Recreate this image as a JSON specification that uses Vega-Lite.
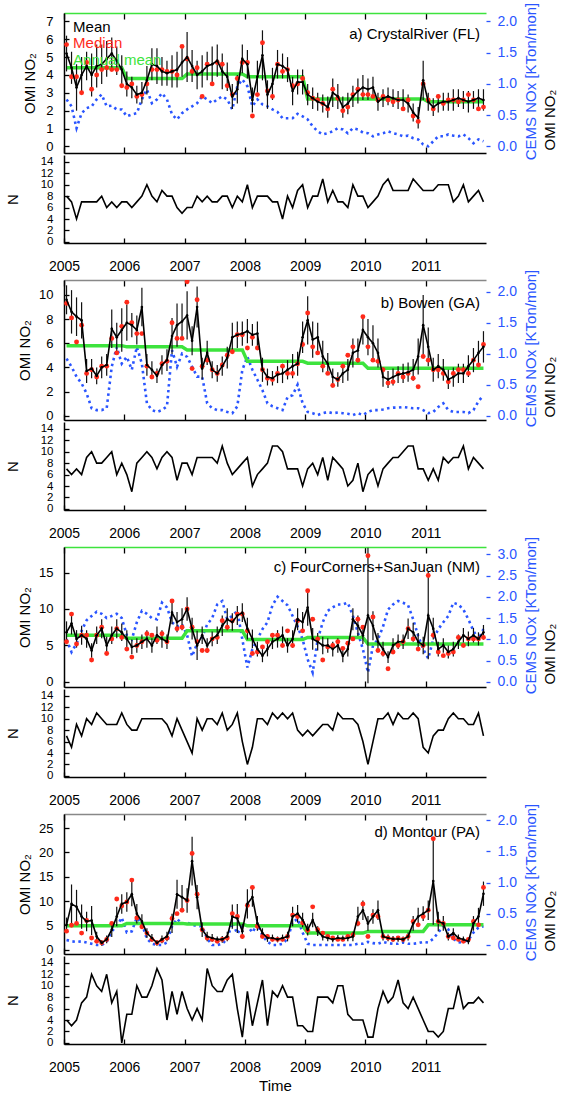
{
"$schema":"https://vega.github.io/schema/vega-lite/v6.json",
"background":"white",
"padding":{"left":5,"top":2,"right":2,"bottom":0},
"config":{"font":"Liberation Sans","view":{"stroke":null},
"axis":{"grid":false,"labelFont":"Liberation Sans","titleFont":"Liberation Sans","labelFontSize":13,"titleFontSize":15,"titleFontWeight":"normal","labelColor":"black","titleColor":"black","domainColor":"black","domainWidth":1.5,"tickColor":"black","tickWidth":1.3,"labelOverlap":false,"labelFlush":false}},
"datasets":{
"A":[
{"t":2005.042,"m":5.2,"e":1.0,"d":5.7,"a":4.4,"c":0.75,"n":8},{"t":2005.125,"m":4.4,"e":0.9,"d":3.9,"a":4.4,"c":0.64,"n":7},{"t":2005.208,"m":3.3,"e":1.3,"d":3.9,"a":4.4,"c":0.29,"n":4},{"t":2005.292,"m":4.0,"e":1.0,"d":3.0,"a":4.4,"c":0.53,"n":7},{"t":2005.375,"m":4.5,"e":0.8,"d":4.7,"a":4.4,"c":0.61,"n":7},{"t":2005.458,"m":4.0,"e":1.2,"d":3.2,"a":4.4,"c":0.64,"n":7},{"t":2005.542,"m":4.5,"e":1.2,"d":4.0,"a":4.4,"c":0.75,"n":7},{"t":2005.625,"m":4.6,"e":1.1,"d":4.3,"a":4.4,"c":0.83,"n":8},{"t":2005.708,"m":4.9,"e":1.0,"d":4.4,"a":4.4,"c":0.64,"n":6},{"t":2005.792,"m":5.2,"e":0.9,"d":4.3,"a":4.4,"c":0.65,"n":7},{"t":2005.875,"m":4.8,"e":0.8,"d":4.3,"a":4.4,"c":0.59,"n":6},{"t":2005.958,"m":4.3,"e":0.8,"d":3.4,"a":4.4,"c":0.59,"n":7},
{"t":2006.042,"m":3.5,"e":0.7,"d":3.3,"a":3.8,"c":0.48,"n":7},{"t":2006.125,"m":3.3,"e":0.6,"d":3.5,"a":3.8,"c":0.51,"n":6},{"t":2006.208,"m":2.9,"e":0.5,"d":2.8,"a":3.8,"c":0.53,"n":7},{"t":2006.292,"m":3.0,"e":0.6,"d":2.9,"a":3.8,"c":0.75,"n":8},{"t":2006.375,"m":3.7,"e":0.8,"d":3.5,"a":3.8,"c":0.91,"n":10},{"t":2006.458,"m":4.6,"e":0.9,"d":4.3,"a":3.8,"c":0.69,"n":8},{"t":2006.542,"m":4.5,"e":1.0,"d":4.3,"a":3.8,"c":0.75,"n":7},{"t":2006.625,"m":4.2,"e":0.8,"d":4.3,"a":3.8,"c":0.85,"n":9},{"t":2006.708,"m":4.1,"e":0.7,"d":4.2,"a":3.8,"c":0.75,"n":8},{"t":2006.792,"m":4.2,"e":0.9,"d":4.2,"a":3.8,"c":0.51,"n":8},{"t":2006.875,"m":4.3,"e":1.0,"d":4.0,"a":3.8,"c":0.43,"n":6},{"t":2006.958,"m":4.7,"e":0.8,"d":5.6,"a":3.8,"c":0.53,"n":5},
{"t":2007.042,"m":5.0,"e":1.4,"d":4.9,"a":4.05,"c":0.59,"n":6},{"t":2007.125,"m":4.5,"e":0.9,"d":4.2,"a":4.05,"c":0.64,"n":6},{"t":2007.208,"m":4.0,"e":0.8,"d":4.4,"a":4.05,"c":0.69,"n":8},{"t":2007.292,"m":4.2,"e":0.9,"d":2.8,"a":4.05,"c":0.80,"n":7},{"t":2007.375,"m":4.5,"e":0.8,"d":4.6,"a":4.05,"c":0.75,"n":8},{"t":2007.458,"m":4.6,"e":1.0,"d":3.5,"a":4.05,"c":0.69,"n":7},{"t":2007.542,"m":4.8,"e":0.9,"d":4.7,"a":4.05,"c":0.75,"n":7},{"t":2007.625,"m":4.2,"e":1.0,"d":4.6,"a":4.05,"c":0.80,"n":8},{"t":2007.708,"m":3.9,"e":0.8,"d":3.4,"a":4.05,"c":0.75,"n":8},{"t":2007.792,"m":2.8,"e":0.7,"d":2.9,"a":4.05,"c":0.59,"n":6},{"t":2007.875,"m":3.2,"e":0.8,"d":3.8,"a":4.05,"c":0.96,"n":8},{"t":2007.958,"m":4.9,"e":0.8,"d":4.7,"a":4.05,"c":1.07,"n":7},
{"t":2008.042,"m":4.6,"e":0.8,"d":4.7,"a":3.9,"c":0.96,"n":10},{"t":2008.125,"m":2.6,"e":0.7,"d":1.7,"a":3.9,"c":0.64,"n":6},{"t":2008.208,"m":3.9,"e":0.9,"d":2.9,"a":3.9,"c":0.75,"n":8},{"t":2008.292,"m":5.1,"e":1.4,"d":5.8,"a":3.9,"c":0.67,"n":8},{"t":2008.375,"m":2.9,"e":0.8,"d":3.1,"a":3.9,"c":0.64,"n":8},{"t":2008.458,"m":3.5,"e":0.9,"d":2.8,"a":3.9,"c":0.59,"n":7},{"t":2008.542,"m":4.6,"e":0.8,"d":4.6,"a":3.9,"c":0.55,"n":7},{"t":2008.625,"m":4.5,"e":0.7,"d":4.2,"a":3.9,"c":0.45,"n":4},{"t":2008.708,"m":4.3,"e":0.7,"d":4.3,"a":3.9,"c":0.45,"n":8},{"t":2008.792,"m":3.1,"e":0.8,"d":3.4,"a":3.9,"c":0.45,"n":6},{"t":2008.875,"m":3.6,"e":0.7,"d":3.5,"a":3.9,"c":0.52,"n":9},{"t":2008.958,"m":3.6,"e":0.7,"d":3.8,"a":3.9,"c":0.48,"n":10},
{"t":2009.042,"m":2.9,"e":0.6,"d":3.0,"a":2.65,"c":0.43,"n":6},{"t":2009.125,"m":2.7,"e":0.6,"d":2.7,"a":2.65,"c":0.32,"n":8},{"t":2009.208,"m":2.5,"e":0.5,"d":2.6,"a":2.65,"c":0.24,"n":8},{"t":2009.292,"m":2.4,"e":0.5,"d":2.4,"a":2.65,"c":0.19,"n":11},{"t":2009.375,"m":2.2,"e":0.6,"d":2.1,"a":2.65,"c":0.21,"n":7},{"t":2009.458,"m":3.0,"e":0.8,"d":3.2,"a":2.65,"c":0.24,"n":9},{"t":2009.542,"m":2.8,"e":0.7,"d":2.7,"a":2.65,"c":0.29,"n":7},{"t":2009.625,"m":2.2,"e":0.6,"d":2.0,"a":2.65,"c":0.27,"n":7},{"t":2009.708,"m":2.4,"e":0.6,"d":2.2,"a":2.65,"c":0.21,"n":6},{"t":2009.792,"m":2.8,"e":0.6,"d":2.9,"a":2.65,"c":0.29,"n":10},{"t":2009.875,"m":3.1,"e":0.7,"d":3.2,"a":2.65,"c":0.27,"n":8},{"t":2009.958,"m":3.3,"e":0.7,"d":2.9,"a":2.65,"c":0.22,"n":8},
{"t":2010.042,"m":3.2,"e":0.6,"d":2.9,"a":2.65,"c":0.21,"n":6},{"t":2010.125,"m":3.3,"e":0.6,"d":2.8,"a":2.65,"c":0.16,"n":7},{"t":2010.208,"m":2.5,"e":0.5,"d":2.6,"a":2.65,"c":0.19,"n":8},{"t":2010.292,"m":2.7,"e":0.5,"d":2.8,"a":2.65,"c":0.21,"n":10},{"t":2010.375,"m":2.8,"e":0.5,"d":2.6,"a":2.65,"c":0.24,"n":11},{"t":2010.458,"m":2.7,"e":0.5,"d":2.5,"a":2.65,"c":0.21,"n":9},{"t":2010.542,"m":2.6,"e":0.5,"d":2.6,"a":2.65,"c":0.19,"n":9},{"t":2010.625,"m":2.6,"e":0.6,"d":2.1,"a":2.65,"c":0.16,"n":9},{"t":2010.708,"m":2.4,"e":0.5,"d":2.6,"a":2.65,"c":0.17,"n":9},{"t":2010.792,"m":1.9,"e":0.5,"d":1.7,"a":2.65,"c":0.13,"n":11},{"t":2010.875,"m":1.6,"e":0.6,"d":1.4,"a":2.65,"c":0.11,"n":10},{"t":2010.958,"m":3.7,"e":1.1,"d":3.5,"a":2.65,"c":0.03,"n":9},
{"t":2011.042,"m":2.5,"e":0.5,"d":2.6,"a":2.5,"c":0.0,"n":9},{"t":2011.125,"m":2.2,"e":0.5,"d":2.1,"a":2.5,"c":0.08,"n":9},{"t":2011.208,"m":2.4,"e":0.5,"d":2.8,"a":2.5,"c":0.16,"n":10},{"t":2011.292,"m":2.5,"e":0.5,"d":2.4,"a":2.5,"c":0.16,"n":10},{"t":2011.375,"m":2.5,"e":0.5,"d":2.6,"a":2.5,"c":0.19,"n":10},{"t":2011.458,"m":2.6,"e":0.6,"d":2.6,"a":2.5,"c":0.17,"n":7},{"t":2011.542,"m":2.7,"e":0.5,"d":2.5,"a":2.5,"c":0.16,"n":8},{"t":2011.625,"m":2.6,"e":0.5,"d":2.6,"a":2.5,"c":0.19,"n":10},{"t":2011.708,"m":2.5,"e":0.6,"d":2.9,"a":2.5,"c":0.13,"n":7},{"t":2011.792,"m":2.6,"e":0.5,"d":2.6,"a":2.5,"c":0.05,"n":8},{"t":2011.875,"m":2.7,"e":0.5,"d":2.1,"a":2.5,"c":0.11,"n":9},{"t":2011.958,"m":2.6,"e":0.6,"d":2.2,"a":2.5,"c":0.08,"n":7}
],
"B":[
{"t":2005.042,"m":9.6,"e":1.2,"d":9.3,"a":5.8,"c":0.92,"n":7},{"t":2005.125,"m":8.6,"e":1.8,"d":8.1,"a":5.8,"c":0.79,"n":6},{"t":2005.208,"m":8.2,"e":1.6,"d":6.1,"a":5.8,"c":0.63,"n":7},{"t":2005.292,"m":7.9,"e":1.5,"d":7.5,"a":5.8,"c":0.52,"n":6},{"t":2005.375,"m":3.7,"e":1.0,"d":3.5,"a":5.8,"c":0.36,"n":9},{"t":2005.458,"m":3.9,"e":0.8,"d":3.8,"a":5.8,"c":0.12,"n":10},{"t":2005.542,"m":3.3,"e":0.7,"d":3.2,"a":5.8,"c":0.09,"n":8},{"t":2005.625,"m":4.0,"e":0.9,"d":4.1,"a":5.8,"c":0.09,"n":8},{"t":2005.708,"m":4.2,"e":0.9,"d":4.1,"a":5.8,"c":0.12,"n":9},{"t":2005.792,"m":7.2,"e":1.6,"d":6.4,"a":5.8,"c":0.79,"n":10},{"t":2005.875,"m":6.5,"e":1.2,"d":5.2,"a":5.8,"c":1.11,"n":6},{"t":2005.958,"m":7.1,"e":1.8,"d":7.4,"a":5.8,"c":0.84,"n":8},
{"t":2006.042,"m":7.7,"e":1.5,"d":9.4,"a":5.7,"c":0.95,"n":6},{"t":2006.125,"m":7.5,"e":1.0,"d":7.7,"a":5.7,"c":0.74,"n":3},{"t":2006.208,"m":7.1,"e":1.2,"d":6.8,"a":5.7,"c":1.11,"n":8},{"t":2006.292,"m":9.0,"e":1.6,"d":6.8,"a":5.7,"c":0.84,"n":9},{"t":2006.375,"m":4.2,"e":0.9,"d":4.1,"a":5.7,"c":0.2,"n":10},{"t":2006.458,"m":3.8,"e":0.7,"d":3.2,"a":5.7,"c":0.09,"n":9},{"t":2006.542,"m":3.3,"e":0.6,"d":3.5,"a":5.7,"c":0.06,"n":7},{"t":2006.625,"m":4.2,"e":0.8,"d":4.3,"a":5.7,"c":0.09,"n":9},{"t":2006.708,"m":4.6,"e":0.9,"d":4.5,"a":5.7,"c":0.15,"n":10},{"t":2006.792,"m":6.6,"e":1.5,"d":7.7,"a":5.7,"c":1.06,"n":9},{"t":2006.875,"m":7.5,"e":1.8,"d":6.4,"a":5.7,"c":0.79,"n":5},{"t":2006.958,"m":7.8,"e":1.5,"d":6.4,"a":5.7,"c":1.0,"n":8},
{"t":2007.042,"m":8.3,"e":2.0,"d":11.1,"a":5.45,"c":0.95,"n":8},{"t":2007.125,"m":6.2,"e":1.2,"d":3.9,"a":5.45,"c":0.79,"n":6},{"t":2007.208,"m":9.0,"e":1.7,"d":9.6,"a":5.45,"c":0.63,"n":9},{"t":2007.292,"m":3.9,"e":0.9,"d":4.1,"a":5.45,"c":0.63,"n":9},{"t":2007.375,"m":5.2,"e":1.0,"d":4.6,"a":5.45,"c":0.2,"n":9},{"t":2007.458,"m":3.8,"e":0.7,"d":3.8,"a":5.45,"c":0.12,"n":9},{"t":2007.542,"m":3.5,"e":0.7,"d":3.5,"a":5.45,"c":0.09,"n":8},{"t":2007.625,"m":4.1,"e":0.8,"d":4.2,"a":5.45,"c":0.09,"n":11},{"t":2007.708,"m":4.8,"e":0.9,"d":5.0,"a":5.45,"c":0.06,"n":8},{"t":2007.792,"m":6.5,"e":1.2,"d":5.3,"a":5.45,"c":0.04,"n":6},{"t":2007.875,"m":6.7,"e":1.1,"d":6.7,"a":5.45,"c":0.15,"n":7},{"t":2007.958,"m":6.8,"e":1.0,"d":6.7,"a":5.45,"c":0.74,"n":8},
{"t":2008.042,"m":7.0,"e":1.0,"d":5.6,"a":4.5,"c":0.95,"n":9},{"t":2008.125,"m":6.7,"e":0.9,"d":6.5,"a":4.5,"c":0.74,"n":4},{"t":2008.208,"m":6.8,"e":1.0,"d":5.6,"a":4.5,"c":0.58,"n":6},{"t":2008.292,"m":3.8,"e":1.0,"d":3.8,"a":4.5,"c":0.41,"n":7},{"t":2008.375,"m":3.2,"e":0.7,"d":3.1,"a":4.5,"c":0.2,"n":8},{"t":2008.458,"m":3.1,"e":0.6,"d":3.0,"a":4.5,"c":0.15,"n":11},{"t":2008.542,"m":3.4,"e":0.7,"d":3.5,"a":4.5,"c":0.12,"n":11},{"t":2008.625,"m":3.5,"e":0.8,"d":4.1,"a":4.5,"c":0.09,"n":10},{"t":2008.708,"m":3.8,"e":0.8,"d":3.5,"a":4.5,"c":0.3,"n":7},{"t":2008.792,"m":4.1,"e":1.0,"d":3.5,"a":4.5,"c":0.33,"n":7},{"t":2008.875,"m":4.3,"e":1.0,"d":4.3,"a":4.5,"c":0.5,"n":7},{"t":2008.958,"m":6.5,"e":1.3,"d":5.9,"a":4.5,"c":0.2,"n":4},
{"t":2009.042,"m":7.9,"e":2.0,"d":8.5,"a":4.35,"c":0.06,"n":7},{"t":2009.125,"m":6.3,"e":1.5,"d":5.7,"a":4.35,"c":0.04,"n":8},{"t":2009.208,"m":6.5,"e":1.2,"d":5.2,"a":4.35,"c":0.01,"n":6},{"t":2009.292,"m":4.9,"e":1.3,"d":4.1,"a":4.35,"c":0.04,"n":9},{"t":2009.375,"m":4.3,"e":0.9,"d":3.5,"a":4.35,"c":0.06,"n":5},{"t":2009.458,"m":3.2,"e":0.7,"d":2.5,"a":4.35,"c":0.04,"n":9},{"t":2009.542,"m":3.0,"e":0.6,"d":3.0,"a":4.35,"c":0.05,"n":8},{"t":2009.625,"m":3.5,"e":0.8,"d":4.1,"a":4.35,"c":0.04,"n":7},{"t":2009.708,"m":3.8,"e":0.9,"d":5.0,"a":4.35,"c":0.03,"n":4},{"t":2009.792,"m":5.2,"e":1.2,"d":5.7,"a":4.35,"c":0.01,"n":5},{"t":2009.875,"m":5.4,"e":1.0,"d":4.6,"a":4.35,"c":0.04,"n":8},{"t":2009.958,"m":7.1,"e":1.2,"d":8.2,"a":4.35,"c":0.01,"n":3},
{"t":2010.042,"m":6.5,"e":1.5,"d":5.7,"a":3.92,"c":0.06,"n":6},{"t":2010.125,"m":6.0,"e":1.5,"d":4.6,"a":3.92,"c":0.09,"n":7},{"t":2010.208,"m":5.2,"e":1.2,"d":4.5,"a":3.92,"c":0.09,"n":4},{"t":2010.292,"m":3.2,"e":0.8,"d":3.8,"a":3.92,"c":0.1,"n":7},{"t":2010.375,"m":3.0,"e":0.7,"d":2.7,"a":3.92,"c":0.12,"n":8},{"t":2010.458,"m":3.2,"e":0.7,"d":2.8,"a":3.92,"c":0.13,"n":9},{"t":2010.542,"m":3.4,"e":0.7,"d":3.5,"a":3.92,"c":0.13,"n":9},{"t":2010.625,"m":3.5,"e":0.8,"d":3.2,"a":3.92,"c":0.14,"n":10},{"t":2010.708,"m":3.6,"e":0.8,"d":3.5,"a":3.92,"c":0.13,"n":11},{"t":2010.792,"m":3.8,"e":0.9,"d":3.1,"a":3.92,"c":0.12,"n":11},{"t":2010.875,"m":4.9,"e":1.5,"d":2.4,"a":3.92,"c":0.12,"n":7},{"t":2010.958,"m":7.5,"e":2.5,"d":4.9,"a":3.92,"c":0.09,"n":7},
{"t":2011.042,"m":5.7,"e":1.6,"d":4.6,"a":3.92,"c":0.04,"n":5},{"t":2011.125,"m":3.8,"e":1.0,"d":3.8,"a":3.92,"c":0.06,"n":7},{"t":2011.208,"m":4.1,"e":1.0,"d":3.8,"a":3.92,"c":0.14,"n":5},{"t":2011.292,"m":3.8,"e":0.9,"d":3.5,"a":3.92,"c":0.2,"n":9},{"t":2011.375,"m":3.0,"e":0.8,"d":2.8,"a":3.92,"c":0.09,"n":8},{"t":2011.458,"m":3.2,"e":0.8,"d":3.5,"a":3.92,"c":0.06,"n":9},{"t":2011.542,"m":3.5,"e":0.8,"d":3.8,"a":3.92,"c":0.06,"n":9},{"t":2011.625,"m":3.5,"e":0.8,"d":3.8,"a":3.92,"c":0.06,"n":11},{"t":2011.708,"m":4.1,"e":0.9,"d":3.5,"a":3.92,"c":0.04,"n":7},{"t":2011.792,"m":4.6,"e":1.0,"d":4.6,"a":3.92,"c":0.09,"n":9},{"t":2011.875,"m":5.2,"e":1.0,"d":4.2,"a":3.92,"c":0.23,"n":8},{"t":2011.958,"m":5.7,"e":1.3,"d":5.9,"a":3.92,"c":0.33,"n":7}
],
"C":[
{"t":2005.042,"m":6.8,"e":1.5,"d":5.5,"a":6.4,"c":1.0,"n":7},{"t":2005.125,"m":8.0,"e":1.5,"d":9.3,"a":6.4,"c":0.7,"n":5},{"t":2005.208,"m":5.9,"e":1.2,"d":5.2,"a":6.4,"c":0.9,"n":9},{"t":2005.292,"m":6.4,"e":1.3,"d":6.4,"a":6.4,"c":1.2,"n":7},{"t":2005.375,"m":5.9,"e":1.2,"d":6.4,"a":6.4,"c":1.45,"n":10},{"t":2005.458,"m":4.3,"e":1.0,"d":3.0,"a":6.4,"c":1.55,"n":9},{"t":2005.542,"m":6.4,"e":1.2,"d":6.4,"a":6.4,"c":1.65,"n":11},{"t":2005.625,"m":7.3,"e":1.3,"d":7.5,"a":6.4,"c":1.6,"n":10},{"t":2005.708,"m":5.0,"e":1.2,"d":3.9,"a":6.4,"c":1.5,"n":9},{"t":2005.792,"m":6.4,"e":1.2,"d":5.9,"a":6.4,"c":1.55,"n":9},{"t":2005.875,"m":7.3,"e":1.3,"d":7.3,"a":6.4,"c":1.6,"n":9},{"t":2005.958,"m":6.8,"e":1.2,"d":6.1,"a":6.4,"c":1.5,"n":11},
{"t":2006.042,"m":5.9,"e":1.2,"d":4.5,"a":6.0,"c":1.1,"n":9},{"t":2006.125,"m":4.8,"e":1.0,"d":3.4,"a":6.0,"c":1.0,"n":8},{"t":2006.208,"m":5.0,"e":1.0,"d":5.0,"a":6.0,"c":1.4,"n":8},{"t":2006.292,"m":5.5,"e":1.0,"d":5.5,"a":6.0,"c":1.67,"n":10},{"t":2006.375,"m":5.9,"e":1.2,"d":6.6,"a":6.0,"c":1.6,"n":10},{"t":2006.458,"m":5.0,"e":1.0,"d":6.4,"a":6.0,"c":1.5,"n":10},{"t":2006.542,"m":6.4,"e":1.2,"d":5.7,"a":6.0,"c":1.47,"n":10},{"t":2006.625,"m":5.9,"e":1.2,"d":6.6,"a":6.0,"c":1.86,"n":10},{"t":2006.708,"m":5.5,"e":1.0,"d":5.5,"a":6.0,"c":1.75,"n":9},{"t":2006.792,"m":9.5,"e":1.6,"d":11.1,"a":6.0,"c":1.4,"n":7},{"t":2006.875,"m":8.2,"e":1.4,"d":7.3,"a":6.0,"c":1.3,"n":10},{"t":2006.958,"m":8.6,"e":1.5,"d":7.5,"a":6.0,"c":1.35,"n":8},
{"t":2007.042,"m":10.0,"e":1.6,"d":10.0,"a":7.0,"c":1.1,"n":6},{"t":2007.125,"m":7.3,"e":1.5,"d":7.5,"a":7.0,"c":0.6,"n":4},{"t":2007.208,"m":5.0,"e":2.0,"d":5.5,"a":7.0,"c":0.9,"n":10},{"t":2007.292,"m":6.4,"e":1.2,"d":4.3,"a":7.0,"c":1.05,"n":8},{"t":2007.375,"m":5.0,"e":1.0,"d":4.3,"a":7.0,"c":1.35,"n":10},{"t":2007.458,"m":5.9,"e":1.0,"d":5.9,"a":7.0,"c":1.5,"n":10},{"t":2007.542,"m":6.4,"e":1.2,"d":6.1,"a":7.0,"c":1.82,"n":9},{"t":2007.625,"m":7.7,"e":1.4,"d":8.4,"a":7.0,"c":1.9,"n":11},{"t":2007.708,"m":8.6,"e":1.5,"d":7.5,"a":7.0,"c":1.47,"n":8},{"t":2007.792,"m":8.2,"e":1.2,"d":8.4,"a":7.0,"c":1.55,"n":9},{"t":2007.875,"m":9.1,"e":1.3,"d":9.3,"a":7.0,"c":1.67,"n":11},{"t":2007.958,"m":9.5,"e":1.3,"d":9.3,"a":7.0,"c":1.0,"n":6},
{"t":2008.042,"m":7.3,"e":1.5,"d":7.0,"a":5.8,"c":0.34,"n":2},{"t":2008.125,"m":5.9,"e":1.3,"d":3.9,"a":5.8,"c":0.77,"n":5},{"t":2008.208,"m":4.5,"e":1.0,"d":4.1,"a":5.8,"c":1.0,"n":10},{"t":2008.292,"m":3.6,"e":0.9,"d":4.8,"a":5.8,"c":1.24,"n":10},{"t":2008.375,"m":4.5,"e":1.0,"d":5.5,"a":5.8,"c":1.4,"n":9},{"t":2008.458,"m":5.5,"e":1.0,"d":6.4,"a":5.8,"c":1.8,"n":11},{"t":2008.542,"m":5.9,"e":1.2,"d":6.4,"a":5.8,"c":2.0,"n":10},{"t":2008.625,"m":6.4,"e":1.2,"d":5.0,"a":5.8,"c":1.9,"n":11},{"t":2008.708,"m":5.0,"e":1.0,"d":7.0,"a":5.8,"c":1.8,"n":10},{"t":2008.792,"m":5.9,"e":1.2,"d":5.0,"a":5.8,"c":1.55,"n":11},{"t":2008.875,"m":8.6,"e":1.5,"d":8.4,"a":5.8,"c":1.3,"n":8},{"t":2008.958,"m":8.2,"e":1.4,"d":7.0,"a":5.8,"c":1.0,"n":7},
{"t":2009.042,"m":10.2,"e":2.5,"d":12.5,"a":6.1,"c":0.53,"n":8},{"t":2009.125,"m":5.9,"e":1.5,"d":8.6,"a":6.1,"c":0.22,"n":7},{"t":2009.208,"m":5.5,"e":1.2,"d":5.9,"a":6.1,"c":1.0,"n":8},{"t":2009.292,"m":5.0,"e":1.2,"d":3.0,"a":6.1,"c":1.4,"n":9},{"t":2009.375,"m":5.0,"e":1.0,"d":4.8,"a":6.1,"c":1.67,"n":9},{"t":2009.458,"m":4.5,"e":1.0,"d":5.0,"a":6.1,"c":1.75,"n":8},{"t":2009.542,"m":5.0,"e":1.0,"d":5.5,"a":6.1,"c":1.82,"n":11},{"t":2009.625,"m":3.6,"e":0.9,"d":4.6,"a":6.1,"c":1.82,"n":10},{"t":2009.708,"m":4.5,"e":1.0,"d":5.3,"a":6.1,"c":1.86,"n":10},{"t":2009.792,"m":8.6,"e":1.5,"d":5.9,"a":6.1,"c":1.55,"n":10},{"t":2009.875,"m":7.7,"e":1.4,"d":8.6,"a":6.1,"c":1.16,"n":9},{"t":2009.958,"m":6.4,"e":1.2,"d":7.5,"a":6.1,"c":0.77,"n":6},
{"t":2010.042,"m":9.1,"e":9.3,"d":17.3,"a":5.2,"c":0.22,"n":2},{"t":2010.125,"m":7.7,"e":2.0,"d":8.9,"a":5.2,"c":0.85,"n":6},{"t":2010.208,"m":5.5,"e":1.2,"d":4.3,"a":5.2,"c":1.0,"n":10},{"t":2010.292,"m":4.5,"e":1.0,"d":3.9,"a":5.2,"c":1.3,"n":10},{"t":2010.375,"m":3.4,"e":0.8,"d":1.8,"a":5.2,"c":1.7,"n":11},{"t":2010.458,"m":5.0,"e":1.0,"d":4.1,"a":5.2,"c":1.82,"n":9},{"t":2010.542,"m":5.5,"e":1.0,"d":5.0,"a":5.2,"c":1.9,"n":11},{"t":2010.625,"m":5.5,"e":1.0,"d":5.5,"a":5.2,"c":1.86,"n":10},{"t":2010.708,"m":7.3,"e":1.4,"d":7.3,"a":5.2,"c":1.8,"n":10},{"t":2010.792,"m":6.8,"e":1.3,"d":5.9,"a":5.2,"c":1.47,"n":11},{"t":2010.875,"m":5.5,"e":1.2,"d":4.5,"a":5.2,"c":1.08,"n":10},{"t":2010.958,"m":5.0,"e":1.2,"d":5.0,"a":5.2,"c":0.77,"n":5},
{"t":2011.042,"m":9.1,"e":6.0,"d":14.6,"a":5.2,"c":0.55,"n":4},{"t":2011.125,"m":7.3,"e":1.5,"d":6.4,"a":5.2,"c":1.0,"n":7},{"t":2011.208,"m":4.5,"e":1.0,"d":4.1,"a":5.2,"c":1.24,"n":8},{"t":2011.292,"m":5.0,"e":1.0,"d":3.6,"a":5.2,"c":1.4,"n":8},{"t":2011.375,"m":4.1,"e":0.9,"d":3.9,"a":5.2,"c":1.55,"n":10},{"t":2011.458,"m":4.5,"e":1.0,"d":4.1,"a":5.2,"c":1.86,"n":11},{"t":2011.542,"m":5.5,"e":1.0,"d":6.1,"a":5.2,"c":1.82,"n":10},{"t":2011.625,"m":6.4,"e":1.0,"d":5.0,"a":5.2,"c":1.7,"n":10},{"t":2011.708,"m":5.9,"e":1.0,"d":5.9,"a":5.2,"c":1.47,"n":9},{"t":2011.792,"m":6.4,"e":1.0,"d":5.9,"a":5.2,"c":1.2,"n":9},{"t":2011.875,"m":5.9,"e":0.9,"d":5.9,"a":5.2,"c":1.0,"n":11},{"t":2011.958,"m":6.8,"e":1.0,"d":6.1,"a":5.2,"c":1.24,"n":7}
],
"D":[
{"t":2005.042,"m":5.1,"e":1.5,"d":3.8,"a":4.9,"c":0.08,"n":4},{"t":2005.125,"m":9.4,"e":4.0,"d":5.0,"a":4.9,"c":0.06,"n":3},{"t":2005.208,"m":8.8,"e":3.5,"d":5.4,"a":4.9,"c":0.05,"n":4},{"t":2005.292,"m":6.8,"e":2.5,"d":3.4,"a":4.9,"c":0.06,"n":7},{"t":2005.375,"m":5.8,"e":2.0,"d":6.0,"a":4.9,"c":0.04,"n":8},{"t":2005.458,"m":6.0,"e":3.0,"d":2.4,"a":4.9,"c":0.02,"n":12},{"t":2005.542,"m":2.7,"e":1.0,"d":1.7,"a":4.9,"c":0.0,"n":10},{"t":2005.625,"m":1.4,"e":0.6,"d":1.4,"a":4.9,"c":0.0,"n":9},{"t":2005.708,"m":2.1,"e":0.8,"d":2.1,"a":4.9,"c":0.05,"n":12},{"t":2005.792,"m":4.1,"e":1.5,"d":5.4,"a":4.9,"c":0.22,"n":7},{"t":2005.875,"m":6.8,"e":2.0,"d":10.4,"a":4.9,"c":0.3,"n":9},{"t":2005.958,"m":9.4,"e":2.0,"d":9.0,"a":4.9,"c":0.44,"n":0},
{"t":2006.042,"m":9.8,"e":2.0,"d":9.8,"a":5.4,"c":0.2,"n":5},{"t":2006.125,"m":11.4,"e":2.5,"d":14.3,"a":5.4,"c":0.22,"n":5},{"t":2006.208,"m":7.4,"e":2.0,"d":6.5,"a":5.4,"c":0.44,"n":10},{"t":2006.292,"m":5.8,"e":1.5,"d":4.7,"a":5.4,"c":0.34,"n":8},{"t":2006.375,"m":3.4,"e":1.0,"d":3.4,"a":5.4,"c":0.1,"n":8},{"t":2006.458,"m":2.4,"e":0.8,"d":2.1,"a":5.4,"c":0.02,"n":10},{"t":2006.542,"m":1.4,"e":0.6,"d":1.4,"a":5.4,"c":0.0,"n":13},{"t":2006.625,"m":2.1,"e":0.8,"d":1.9,"a":5.4,"c":0.0,"n":11},{"t":2006.708,"m":2.7,"e":1.0,"d":2.4,"a":5.4,"c":0.04,"n":4},{"t":2006.792,"m":5.4,"e":2.0,"d":6.4,"a":5.4,"c":0.3,"n":9},{"t":2006.875,"m":11.4,"e":3.0,"d":7.4,"a":5.4,"c":0.42,"n":5},{"t":2006.958,"m":10.8,"e":2.5,"d":8.1,"a":5.4,"c":0.34,"n":9},
{"t":2007.042,"m":10.1,"e":2.5,"d":10.1,"a":5.25,"c":0.36,"n":6},{"t":2007.125,"m":18.2,"e":5.0,"d":19.8,"a":5.25,"c":0.33,"n":4},{"t":2007.208,"m":10.8,"e":2.5,"d":11.4,"a":5.25,"c":0.3,"n":6},{"t":2007.292,"m":4.1,"e":1.5,"d":4.1,"a":5.25,"c":0.3,"n":4},{"t":2007.375,"m":2.7,"e":1.0,"d":2.4,"a":5.25,"c":0.1,"n":13},{"t":2007.458,"m":2.4,"e":0.8,"d":2.1,"a":5.25,"c":0.0,"n":10},{"t":2007.542,"m":2.1,"e":0.6,"d":1.7,"a":5.25,"c":0.0,"n":9},{"t":2007.625,"m":2.1,"e":0.7,"d":2.1,"a":5.25,"c":0.02,"n":9},{"t":2007.708,"m":2.7,"e":1.0,"d":2.4,"a":5.25,"c":0.1,"n":11},{"t":2007.792,"m":6.8,"e":2.5,"d":7.4,"a":5.25,"c":0.36,"n":12},{"t":2007.875,"m":6.4,"e":3.0,"d":6.8,"a":5.25,"c":0.18,"n":6},{"t":2007.958,"m":3.8,"e":1.5,"d":2.7,"a":5.25,"c":0.31,"n":1},
{"t":2008.042,"m":9.4,"e":3.0,"d":9.1,"a":4.9,"c":0.31,"n":9},{"t":2008.125,"m":10.8,"e":2.0,"d":12.8,"a":4.9,"c":0.2,"n":3},{"t":2008.208,"m":5.4,"e":1.5,"d":4.8,"a":4.9,"c":0.34,"n":7},{"t":2008.292,"m":3.4,"e":1.0,"d":2.7,"a":4.9,"c":0.15,"n":11},{"t":2008.375,"m":2.4,"e":0.8,"d":2.7,"a":4.9,"c":0.05,"n":3},{"t":2008.458,"m":2.4,"e":0.7,"d":2.1,"a":4.9,"c":0.0,"n":9},{"t":2008.542,"m":2.1,"e":0.6,"d":2.1,"a":4.9,"c":0.0,"n":8},{"t":2008.625,"m":2.4,"e":0.7,"d":2.1,"a":4.9,"c":0.02,"n":10},{"t":2008.708,"m":2.7,"e":1.0,"d":2.7,"a":4.9,"c":0.1,"n":8},{"t":2008.792,"m":6.8,"e":2.0,"d":7.1,"a":4.9,"c":0.36,"n":8},{"t":2008.875,"m":7.4,"e":1.8,"d":6.8,"a":4.9,"c":0.42,"n":3},{"t":2008.958,"m":6.1,"e":1.5,"d":5.5,"a":4.9,"c":0.2,"n":3},
{"t":2009.042,"m":4.1,"e":1.2,"d":4.0,"a":3.4,"c":0.02,"n":2},{"t":2009.125,"m":6.1,"e":1.5,"d":8.8,"a":3.4,"c":0.0,"n":2},{"t":2009.208,"m":3.8,"e":1.0,"d":4.1,"a":3.4,"c":0.0,"n":8},{"t":2009.292,"m":2.7,"e":0.8,"d":3.4,"a":3.4,"c":0.0,"n":8},{"t":2009.375,"m":2.4,"e":0.7,"d":2.7,"a":3.4,"c":0.0,"n":8},{"t":2009.458,"m":2.1,"e":0.6,"d":2.4,"a":3.4,"c":0.0,"n":7},{"t":2009.542,"m":2.4,"e":0.6,"d":2.1,"a":3.4,"c":0.0,"n":10},{"t":2009.625,"m":2.3,"e":0.6,"d":2.1,"a":3.4,"c":0.0,"n":10},{"t":2009.708,"m":2.4,"e":0.7,"d":2.7,"a":3.4,"c":0.0,"n":5},{"t":2009.792,"m":2.7,"e":1.0,"d":3.0,"a":3.4,"c":0.0,"n":4},{"t":2009.875,"m":6.8,"e":2.0,"d":5.4,"a":3.4,"c":0.02,"n":4},{"t":2009.958,"m":8.1,"e":2.0,"d":9.4,"a":3.4,"c":0.02,"n":4},
{"t":2010.042,"m":5.4,"e":1.5,"d":2.7,"a":3.75,"c":0.05,"n":1},{"t":2010.125,"m":6.8,"e":1.5,"d":7.1,"a":3.75,"c":0.03,"n":1},{"t":2010.208,"m":8.1,"e":2.0,"d":6.8,"a":3.75,"c":0.02,"n":6},{"t":2010.292,"m":2.7,"e":0.8,"d":2.7,"a":3.75,"c":0.05,"n":9},{"t":2010.375,"m":2.4,"e":0.7,"d":2.4,"a":3.75,"c":0.03,"n":7},{"t":2010.458,"m":2.2,"e":0.6,"d":2.1,"a":3.75,"c":0.02,"n":8},{"t":2010.542,"m":2.2,"e":0.6,"d":2.4,"a":3.75,"c":0.02,"n":11},{"t":2010.625,"m":2.1,"e":0.6,"d":2.1,"a":3.75,"c":0.04,"n":7},{"t":2010.708,"m":2.7,"e":0.8,"d":2.7,"a":3.75,"c":0.02,"n":6},{"t":2010.792,"m":5.4,"e":1.5,"d":5.8,"a":3.75,"c":0.02,"n":8},{"t":2010.875,"m":6.8,"e":1.8,"d":5.1,"a":3.75,"c":0.03,"n":6},{"t":2010.958,"m":7.4,"e":1.5,"d":6.8,"a":3.75,"c":0.05,"n":4},
{"t":2011.042,"m":8.1,"e":2.0,"d":8.1,"a":5.1,"c":0.04,"n":2},{"t":2011.125,"m":14.1,"e":9.0,"d":22.8,"a":5.1,"c":0.1,"n":2},{"t":2011.208,"m":5.8,"e":2.0,"d":5.8,"a":5.1,"c":0.2,"n":1},{"t":2011.292,"m":5.4,"e":1.5,"d":5.4,"a":5.1,"c":0.3,"n":2},{"t":2011.375,"m":2.7,"e":0.8,"d":2.7,"a":5.1,"c":0.25,"n":6},{"t":2011.458,"m":3.4,"e":1.0,"d":2.4,"a":5.1,"c":0.1,"n":6},{"t":2011.542,"m":2.4,"e":0.7,"d":2.1,"a":5.1,"c":0.04,"n":10},{"t":2011.625,"m":2.1,"e":0.6,"d":1.7,"a":5.1,"c":0.05,"n":6},{"t":2011.708,"m":1.7,"e":0.6,"d":2.1,"a":5.1,"c":0.08,"n":7},{"t":2011.792,"m":5.4,"e":1.5,"d":5.8,"a":5.1,"c":0.2,"n":7},{"t":2011.875,"m":6.8,"e":1.8,"d":5.1,"a":5.1,"c":0.28,"n":8},{"t":2011.958,"m":11.5,"e":2.5,"d":12.8,"a":5.1,"c":0.3,"n":7}
]
},
"vconcat":[
{"bounds":"flush","spacing":2,"vconcat":[
{"width":422,"height":140,"data":{"name":"A"},
"resolve":{"scale":{"y":"independent"},"axis":{"x":"independent"}},
"layer":[
{"mark":{"type":"line","color":"#2a55ff","strokeWidth":2.6,"strokeDash":[2.5,3.5],"clip":true},
"encoding":{"x":{"field":"t","type":"quantitative","scale":{"domain":[2005,2012],"nice":false,"zero":false},"axis":null},
"y":{"field":"c","type":"quantitative","scale":{"domain":[-0.107,2.133],"nice":false,"zero":false},"axis":{"orient":"right","values":[0,0.5,1,1.5,2],"format":".1f","domain":false,"tickColor":"#2a55ff","tickSize":4,"labelPadding":7,"labelColor":"#2a55ff","labelFontSize":14,"title":"CEMS NOx [KTon/mon]","titleColor":"#2a55ff","titleAngle":270,"titleBaseline":"bottom","titleAlign":"center","titleX":52,"titleY":68}}}},
{"mark":{"type":"line","color":"#3de33d","strokeWidth":3.5,"clip":true},
"encoding":{"x":{"field":"t","type":"quantitative","scale":{"domain":[2005,2012],"nice":false,"zero":false},"axis":{"orient":"bottom","values":[2005,2006,2007,2008,2009,2010,2011],"labels":false,"tickSize":-6,"title":null}},
"y":{"field":"a","type":"quantitative","scale":{"domain":[-0.37,7.47],"nice":false,"zero":false},"axis":{"orient":"left","values":[0,1,2,3,4,5,6,7],"tickSize":-5,"labelPadding":16,"title":"OMI NO₂","titleAngle":270,"titleBaseline":"bottom","titleAlign":"center","titleX":-27,"titleY":70}}}},
{"mark":{"type":"errorbar","color":"#111111","thickness":1.2},
"encoding":{"x":{"field":"t","type":"quantitative","axis":null},"y":{"field":"m","type":"quantitative","scale":{"domain":[-0.37,7.47],"nice":false,"zero":false},"axis":null},"yError":{"field":"e"}}},
{"mark":{"type":"circle","color":"#ff2a1a","size":24,"opacity":1,"clip":true},
"encoding":{"x":{"field":"t","type":"quantitative","axis":null},"y":{"field":"d","type":"quantitative","scale":{"domain":[-0.37,7.47],"nice":false,"zero":false},"axis":null}}},
{"mark":{"type":"line","color":"black","strokeWidth":1.6,"clip":true,"point":{"filled":true,"size":7,"color":"black"}},
"encoding":{"x":{"field":"t","type":"quantitative","axis":null},"y":{"field":"m","type":"quantitative","scale":{"domain":[-0.37,7.47],"nice":false,"zero":false},"axis":null}}},
{"data":{"values":[{}]},"mark":{"type":"text","text":"Mean","align":"left","baseline":"middle","fontSize":15,"color":"black"},"encoding":{"x":{"datum":2005.15,"type":"quantitative","axis":null},"y":{"datum":6.7,"type":"quantitative","scale":{"domain":[-0.37,7.47],"nice":false,"zero":false},"axis":null}}},
{"data":{"values":[{}]},"mark":{"type":"text","text":"Median","align":"left","baseline":"middle","fontSize":15,"color":"#ff2a1a"},"encoding":{"x":{"datum":2005.15,"type":"quantitative","axis":null},"y":{"datum":5.8,"type":"quantitative","scale":{"domain":[-0.37,7.47],"nice":false,"zero":false},"axis":null}}},
{"data":{"values":[{}]},"mark":{"type":"text","text":"Annual mean","align":"left","baseline":"middle","fontSize":15,"color":"#3de33d"},"encoding":{"x":{"datum":2005.15,"type":"quantitative","axis":null},"y":{"datum":4.85,"type":"quantitative","scale":{"domain":[-0.37,7.47],"nice":false,"zero":false},"axis":null}}},
{"data":{"values":[{}]},"mark":{"type":"text","text":"a) CrystalRiver (FL)","align":"right","baseline":"middle","fontSize":15,"color":"black"},"encoding":{"x":{"datum":2011.9,"type":"quantitative","axis":null},"y":{"datum":6.3,"type":"quantitative","scale":{"domain":[-0.37,7.47],"nice":false,"zero":false},"axis":null}}},
{"mark":{"type":"point","opacity":0},
"encoding":{"x":{"field":"t","type":"quantitative","scale":{"domain":[2005,2012],"nice":false,"zero":false},"axis":{"orient":"top","values":[2005,2006,2007,2008,2009,2010,2011],"labels":false,"tickSize":-6,"title":null,"domainColor":"#3de33d"}},
"y":{"field":"m","type":"quantitative","scale":{"domain":[-0.37,7.47],"nice":false,"zero":false},"axis":{"orient":"right","labels":false,"ticks":false,"domain":false,"title":"OMI NO₂","titleAngle":270,"titleBaseline":"bottom","titleAlign":"left","titleX":71,"titleY":137}}}}
]},
{"width":422,"height":88,"data":{"name":"A"},
"mark":{"type":"line","color":"black","strokeWidth":1.6,"clip":true},
"encoding":{"x":{"field":"t","type":"quantitative","scale":{"domain":[2005,2012],"nice":false,"zero":false},"axis":{"values":[2005,2006,2007,2008,2009,2010,2011],"format":"d","tickSize":-5,"labelPadding":21,"labelFontSize":14,"title":null}},
"y":{"field":"n","type":"quantitative","scale":{"domain":[-0.2,15.2],"nice":false,"zero":false},"axis":{"values":[0,2,4,6,8,10,12,14],"tickSize":-5,"labelPadding":16,"labelFontSize":11.5,"title":"N","titleAngle":270,"titleBaseline":"bottom","titleAlign":"center","titleX":-44,"titleY":44}}}}
]},
{"bounds":"flush","spacing":2,"vconcat":[
{"width":422,"height":140,"data":{"name":"B"},
"resolve":{"scale":{"y":"independent"},"axis":{"x":"independent"}},
"layer":[
{"mark":{"type":"line","color":"#2a55ff","strokeWidth":2.6,"strokeDash":[2.5,3.5],"clip":true},
"encoding":{"x":{"field":"t","type":"quantitative","scale":{"domain":[2005,2012],"nice":false,"zero":false},"axis":null},
"y":{"field":"c","type":"quantitative","scale":{"domain":[-0.07,2.19],"nice":false,"zero":false},"axis":{"orient":"right","values":[0,0.5,1,1.5,2],"format":".1f","domain":false,"tickColor":"#2a55ff","tickSize":4,"labelPadding":7,"labelColor":"#2a55ff","labelFontSize":14,"title":"CEMS NOx [KTon/mon]","titleColor":"#2a55ff","titleAngle":270,"titleBaseline":"bottom","titleAlign":"center","titleX":52,"titleY":68}}}},
{"mark":{"type":"line","color":"#3de33d","strokeWidth":3.5,"clip":true},
"encoding":{"x":{"field":"t","type":"quantitative","scale":{"domain":[2005,2012],"nice":false,"zero":false},"axis":{"orient":"bottom","values":[2005,2006,2007,2008,2009,2010,2011],"labels":false,"tickSize":-6,"title":null}},
"y":{"field":"a","type":"quantitative","scale":{"domain":[-0.36,11.24],"nice":false,"zero":false},"axis":{"orient":"left","values":[0,2,4,6,8,10],"tickSize":-5,"labelPadding":16,"title":"OMI NO₂","titleAngle":270,"titleBaseline":"bottom","titleAlign":"center","titleX":-32,"titleY":70}}}},
{"mark":{"type":"errorbar","color":"#111111","thickness":1.2},
"encoding":{"x":{"field":"t","type":"quantitative","axis":null},"y":{"field":"m","type":"quantitative","scale":{"domain":[-0.36,11.24],"nice":false,"zero":false},"axis":null},"yError":{"field":"e"}}},
{"mark":{"type":"circle","color":"#ff2a1a","size":24,"opacity":1,"clip":true},
"encoding":{"x":{"field":"t","type":"quantitative","axis":null},"y":{"field":"d","type":"quantitative","scale":{"domain":[-0.36,11.24],"nice":false,"zero":false},"axis":null}}},
{"mark":{"type":"line","color":"black","strokeWidth":1.6,"clip":true,"point":{"filled":true,"size":7,"color":"black"}},
"encoding":{"x":{"field":"t","type":"quantitative","axis":null},"y":{"field":"m","type":"quantitative","scale":{"domain":[-0.36,11.24],"nice":false,"zero":false},"axis":null}}},
{"data":{"values":[{}]},"mark":{"type":"text","text":"b) Bowen (GA)","align":"right","baseline":"middle","fontSize":15,"color":"black"},"encoding":{"x":{"datum":2011.9,"type":"quantitative","axis":null},"y":{"datum":9.3,"type":"quantitative","scale":{"domain":[-0.36,11.24],"nice":false,"zero":false},"axis":null}}},
{"mark":{"type":"point","opacity":0},
"encoding":{"x":{"field":"t","type":"quantitative","scale":{"domain":[2005,2012],"nice":false,"zero":false},"axis":{"orient":"top","values":[2005,2006,2007,2008,2009,2010,2011],"labels":false,"tickSize":-6,"title":null,"domainColor":"#888888"}},
"y":{"field":"m","type":"quantitative","scale":{"domain":[-0.36,11.24],"nice":false,"zero":false},"axis":{"orient":"right","labels":false,"ticks":false,"domain":false,"title":"OMI NO₂","titleAngle":270,"titleBaseline":"bottom","titleAlign":"left","titleX":71,"titleY":137}}}}
]},
{"width":422,"height":88,"data":{"name":"B"},
"mark":{"type":"line","color":"black","strokeWidth":1.6,"clip":true},
"encoding":{"x":{"field":"t","type":"quantitative","scale":{"domain":[2005,2012],"nice":false,"zero":false},"axis":{"values":[2005,2006,2007,2008,2009,2010,2011],"format":"d","tickSize":-5,"labelPadding":21,"labelFontSize":14,"title":null}},
"y":{"field":"n","type":"quantitative","scale":{"domain":[-0.2,15.2],"nice":false,"zero":false},"axis":{"values":[0,2,4,6,8,10,12,14],"tickSize":-5,"labelPadding":16,"labelFontSize":11.5,"title":"N","titleAngle":270,"titleBaseline":"bottom","titleAlign":"center","titleX":-44,"titleY":44}}}}
]},
{"bounds":"flush","spacing":2,"vconcat":[
{"width":422,"height":140,"data":{"name":"C"},
"resolve":{"scale":{"y":"independent"},"axis":{"x":"independent"}},
"layer":[
{"mark":{"type":"line","color":"#2a55ff","strokeWidth":2.6,"strokeDash":[2.5,3.5],"clip":true},
"encoding":{"x":{"field":"t","type":"quantitative","scale":{"domain":[2005,2012],"nice":false,"zero":false},"axis":null},
"y":{"field":"c","type":"quantitative","scale":{"domain":[-0.12,3.17],"nice":false,"zero":false},"axis":{"orient":"right","values":[0,0.5,1,1.5,2,2.5,3],"format":".1f","domain":false,"tickColor":"#2a55ff","tickSize":4,"labelPadding":7,"labelColor":"#2a55ff","labelFontSize":14,"title":"CEMS NOx [KTon/mon]","titleColor":"#2a55ff","titleAngle":270,"titleBaseline":"bottom","titleAlign":"center","titleX":52,"titleY":68}}}},
{"mark":{"type":"line","color":"#3de33d","strokeWidth":3.5,"clip":true},
"encoding":{"x":{"field":"t","type":"quantitative","scale":{"domain":[2005,2012],"nice":false,"zero":false},"axis":{"orient":"bottom","values":[2005,2006,2007,2008,2009,2010,2011],"labels":false,"tickSize":-6,"title":null}},
"y":{"field":"a","type":"quantitative","scale":{"domain":[-0.7,18.5],"nice":false,"zero":false},"axis":{"orient":"left","values":[0,5,10,15],"tickSize":-5,"labelPadding":16,"title":"OMI NO₂","titleAngle":270,"titleBaseline":"bottom","titleAlign":"center","titleX":-32,"titleY":70}}}},
{"mark":{"type":"errorbar","color":"#111111","thickness":1.2},
"encoding":{"x":{"field":"t","type":"quantitative","axis":null},"y":{"field":"m","type":"quantitative","scale":{"domain":[-0.7,18.5],"nice":false,"zero":false},"axis":null},"yError":{"field":"e"}}},
{"mark":{"type":"circle","color":"#ff2a1a","size":24,"opacity":1,"clip":true},
"encoding":{"x":{"field":"t","type":"quantitative","axis":null},"y":{"field":"d","type":"quantitative","scale":{"domain":[-0.7,18.5],"nice":false,"zero":false},"axis":null}}},
{"mark":{"type":"line","color":"black","strokeWidth":1.6,"clip":true,"point":{"filled":true,"size":7,"color":"black"}},
"encoding":{"x":{"field":"t","type":"quantitative","axis":null},"y":{"field":"m","type":"quantitative","scale":{"domain":[-0.7,18.5],"nice":false,"zero":false},"axis":null}}},
{"data":{"values":[{}]},"mark":{"type":"text","text":"c) FourCorners+SanJuan (NM)","align":"right","baseline":"middle","fontSize":15,"color":"black"},"encoding":{"x":{"datum":2011.9,"type":"quantitative","axis":null},"y":{"datum":15.7,"type":"quantitative","scale":{"domain":[-0.7,18.5],"nice":false,"zero":false},"axis":null}}},
{"mark":{"type":"point","opacity":0},
"encoding":{"x":{"field":"t","type":"quantitative","scale":{"domain":[2005,2012],"nice":false,"zero":false},"axis":{"orient":"top","values":[2005,2006,2007,2008,2009,2010,2011],"labels":false,"tickSize":-6,"title":null,"domainColor":"#3de33d"}},
"y":{"field":"m","type":"quantitative","scale":{"domain":[-0.7,18.5],"nice":false,"zero":false},"axis":{"orient":"right","labels":false,"ticks":false,"domain":false,"title":"OMI NO₂","titleAngle":270,"titleBaseline":"bottom","titleAlign":"left","titleX":71,"titleY":137}}}}
]},
{"width":422,"height":88,"data":{"name":"C"},
"mark":{"type":"line","color":"black","strokeWidth":1.6,"clip":true},
"encoding":{"x":{"field":"t","type":"quantitative","scale":{"domain":[2005,2012],"nice":false,"zero":false},"axis":{"values":[2005,2006,2007,2008,2009,2010,2011],"format":"d","tickSize":-5,"labelPadding":21,"labelFontSize":14,"title":null}},
"y":{"field":"n","type":"quantitative","scale":{"domain":[-0.2,15.2],"nice":false,"zero":false},"axis":{"values":[0,2,4,6,8,10,12,14],"tickSize":-5,"labelPadding":16,"labelFontSize":11.5,"title":"N","titleAngle":270,"titleBaseline":"bottom","titleAlign":"center","titleX":-44,"titleY":44}}}}
]},
{"bounds":"flush","spacing":2,"vconcat":[
{"width":422,"height":140,"data":{"name":"D"},
"resolve":{"scale":{"y":"independent"},"axis":{"x":"independent"}},
"layer":[
{"mark":{"type":"line","color":"#2a55ff","strokeWidth":2.6,"strokeDash":[2.5,3.5],"clip":true},
"encoding":{"x":{"field":"t","type":"quantitative","scale":{"domain":[2005,2012],"nice":false,"zero":false},"axis":null},
"y":{"field":"c","type":"quantitative","scale":{"domain":[-0.144,2.1],"nice":false,"zero":false},"axis":{"orient":"right","values":[0,0.5,1,1.5,2],"format":".1f","domain":false,"tickColor":"#2a55ff","tickSize":4,"labelPadding":7,"labelColor":"#2a55ff","labelFontSize":14,"title":"CEMS NOx [KTon/mon]","titleColor":"#2a55ff","titleAngle":270,"titleBaseline":"bottom","titleAlign":"center","titleX":52,"titleY":68}}}},
{"mark":{"type":"line","color":"#3de33d","strokeWidth":3.5,"clip":true},
"encoding":{"x":{"field":"t","type":"quantitative","scale":{"domain":[2005,2012],"nice":false,"zero":false},"axis":{"orient":"bottom","values":[2005,2006,2007,2008,2009,2010,2011],"labels":false,"tickSize":-6,"title":null}},
"y":{"field":"a","type":"quantitative","scale":{"domain":[-0.9,27.9],"nice":false,"zero":false},"axis":{"orient":"left","values":[0,5,10,15,20,25],"tickSize":-5,"labelPadding":16,"title":"OMI NO₂","titleAngle":270,"titleBaseline":"bottom","titleAlign":"center","titleX":-32,"titleY":70}}}},
{"mark":{"type":"errorbar","color":"#111111","thickness":1.2},
"encoding":{"x":{"field":"t","type":"quantitative","axis":null},"y":{"field":"m","type":"quantitative","scale":{"domain":[-0.9,27.9],"nice":false,"zero":false},"axis":null},"yError":{"field":"e"}}},
{"mark":{"type":"circle","color":"#ff2a1a","size":24,"opacity":1,"clip":true},
"encoding":{"x":{"field":"t","type":"quantitative","axis":null},"y":{"field":"d","type":"quantitative","scale":{"domain":[-0.9,27.9],"nice":false,"zero":false},"axis":null}}},
{"mark":{"type":"line","color":"black","strokeWidth":1.6,"clip":true,"point":{"filled":true,"size":7,"color":"black"}},
"encoding":{"x":{"field":"t","type":"quantitative","axis":null},"y":{"field":"m","type":"quantitative","scale":{"domain":[-0.9,27.9],"nice":false,"zero":false},"axis":null}}},
{"data":{"values":[{}]},"mark":{"type":"text","text":"d) Montour (PA)","align":"right","baseline":"middle","fontSize":15,"color":"black"},"encoding":{"x":{"datum":2011.9,"type":"quantitative","axis":null},"y":{"datum":24.2,"type":"quantitative","scale":{"domain":[-0.9,27.9],"nice":false,"zero":false},"axis":null}}},
{"mark":{"type":"point","opacity":0},
"encoding":{"x":{"field":"t","type":"quantitative","scale":{"domain":[2005,2012],"nice":false,"zero":false},"axis":{"orient":"top","values":[2005,2006,2007,2008,2009,2010,2011],"labels":false,"tickSize":-6,"title":null,"domainColor":"#888888"}},
"y":{"field":"m","type":"quantitative","scale":{"domain":[-0.9,27.9],"nice":false,"zero":false},"axis":{"orient":"right","labels":false,"ticks":false,"domain":false,"title":"OMI NO₂","titleAngle":270,"titleBaseline":"bottom","titleAlign":"left","titleX":71,"titleY":137}}}}
]},
{"width":422,"height":88,"data":{"name":"D"},
"mark":{"type":"line","color":"black","strokeWidth":1.6,"clip":true},
"encoding":{"x":{"field":"t","type":"quantitative","scale":{"domain":[2005,2012],"nice":false,"zero":false},"axis":{"values":[2005,2006,2007,2008,2009,2010,2011],"format":"d","tickSize":-5,"labelPadding":21,"labelFontSize":14,"title":"Time","titlePadding":4}},
"y":{"field":"n","type":"quantitative","scale":{"domain":[-0.2,15.2],"nice":false,"zero":false},"axis":{"values":[0,2,4,6,8,10,12,14],"tickSize":-5,"labelPadding":16,"labelFontSize":11.5,"title":"N","titleAngle":270,"titleBaseline":"bottom","titleAlign":"center","titleX":-44,"titleY":44}}}}
]}
],
"spacing":-4
}
